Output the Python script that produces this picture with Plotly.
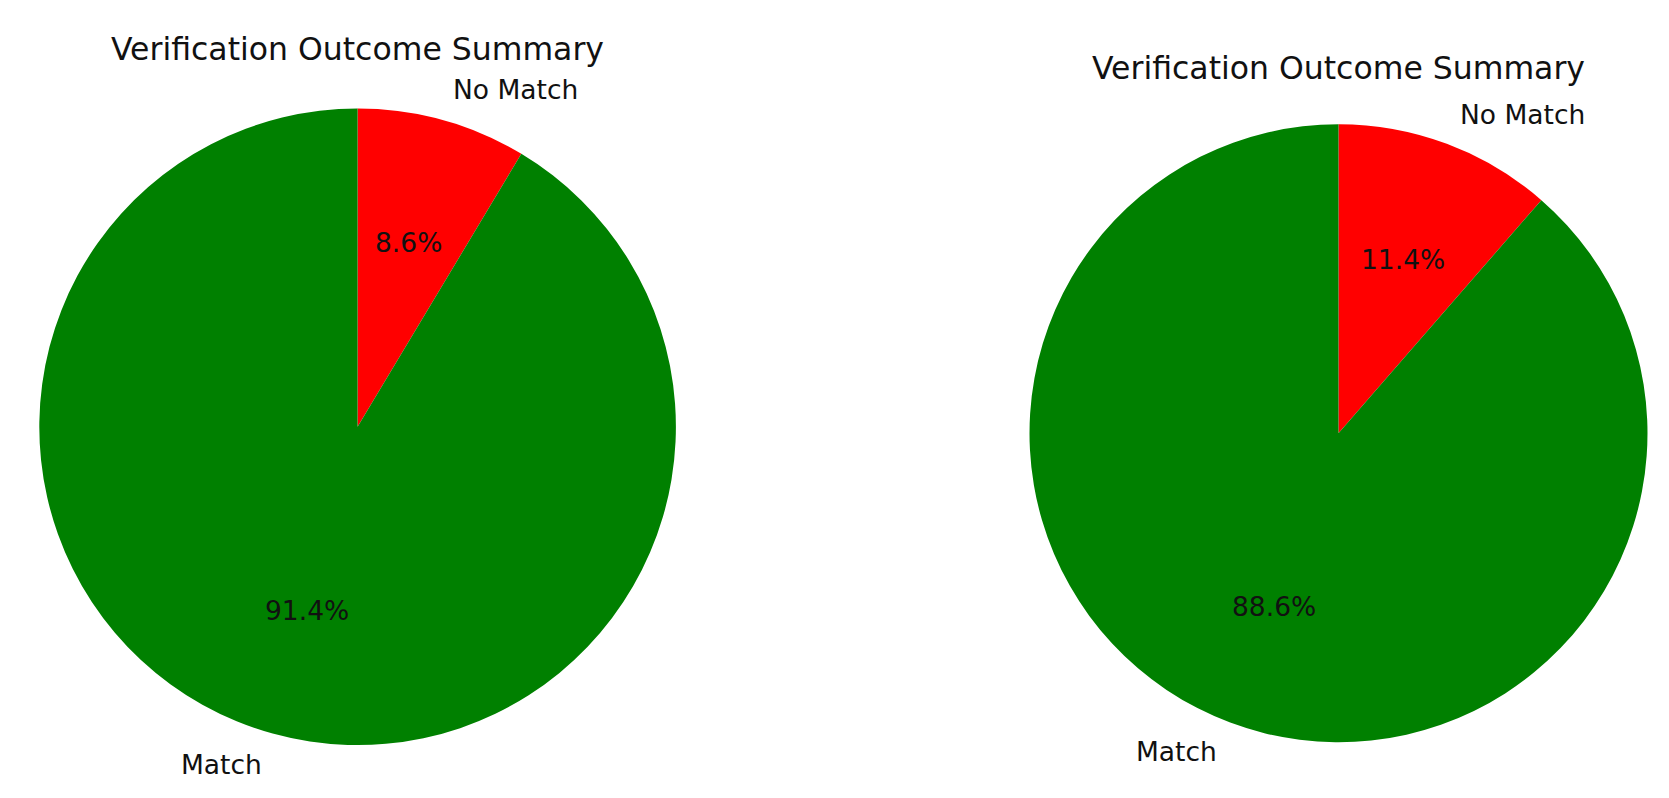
import numpy as np
import plotly.graph_objects as go

# page body has an 8px margin, so the figure is drawn 8px in from the corner
OFF = 8
W, H = 1669 - 2 * OFF, 798 - 2 * OFF

labels = ["Match", "No Match"]
colors = ["#008000", "#ff0000"]
left_values = [91.4, 8.6]
right_values = [88.6, 11.4]
title_text = "Verification Outcome Summary"

FONT = "DejaVu Sans"

# pie centre / radius in window pixels (from top-left), plus title centre y
pies = [
    dict(values=left_values, cx=357.6, cy=426.8, r=318.3, title_y=49),
    dict(values=right_values, cx=1338.5, cy=433.2, r=309.0, title_y=68),
]

fig = go.Figure()
annotations = []

for p in pies:
    cx, cy, r = p["cx"] - OFF, p["cy"] - OFF, p["r"]
    # reversed + clockwise gives matplotlib's counterclockwise-from-90deg layout
    fig.add_trace(go.Pie(
        labels=labels[::-1],
        values=p["values"][::-1],
        marker=dict(colors=colors[::-1], line=dict(width=0)),
        sort=False,
        direction="clockwise",
        rotation=0,
        textinfo="none",
        hoverinfo="label+percent",
        showlegend=False,
        domain=dict(x=[(cx - r) / W, (cx + r) / W],
                    y=[(H - cy - r) / H, (H - cy + r) / H]),
    ))

    # labels at 1.1r and percentages at 0.6r, like matplotlib's pie
    vals = np.array(p["values"], dtype=float)
    fracs = vals / vals.sum()
    start = 90.0
    for lab, f in zip(labels, fracs):
        mid = np.deg2rad(start + 360 * f / 2)
        start += 360 * f
        c, s = np.cos(mid), np.sin(mid)
        lx = cx + 1.1 * r * c
        ly = cy - 1.1 * r * s
        annotations.append(dict(
            x=lx / W, y=1 - ly / H, xref="paper", yref="paper",
            text=lab, showarrow=False,
            xanchor="left" if c > 0 else "right", yanchor="middle",
            font=dict(family=FONT, size=26.5, color="#111"),
        ))
        px_ = cx + 0.6 * r * c
        py_ = cy - 0.6 * r * s
        annotations.append(dict(
            x=px_ / W, y=1 - py_ / H, xref="paper", yref="paper",
            text=f"{f * 100:.1f}%", showarrow=False,
            xanchor="center", yanchor="middle",
            font=dict(family=FONT, size=26.5, color="#111"),
        ))

    annotations.append(dict(
        x=cx / W, y=1 - (p["title_y"] - OFF) / H, xref="paper", yref="paper",
        text=title_text, showarrow=False,
        xanchor="center", yanchor="middle",
        font=dict(family=FONT, size=31.5, color="#111"),
    ))

fig.update_layout(
    width=W, height=H,
    margin=dict(l=0, r=0, t=0, b=0),
    paper_bgcolor="white",
    plot_bgcolor="white",
    annotations=annotations,
)

fig.write_html("out.html")
